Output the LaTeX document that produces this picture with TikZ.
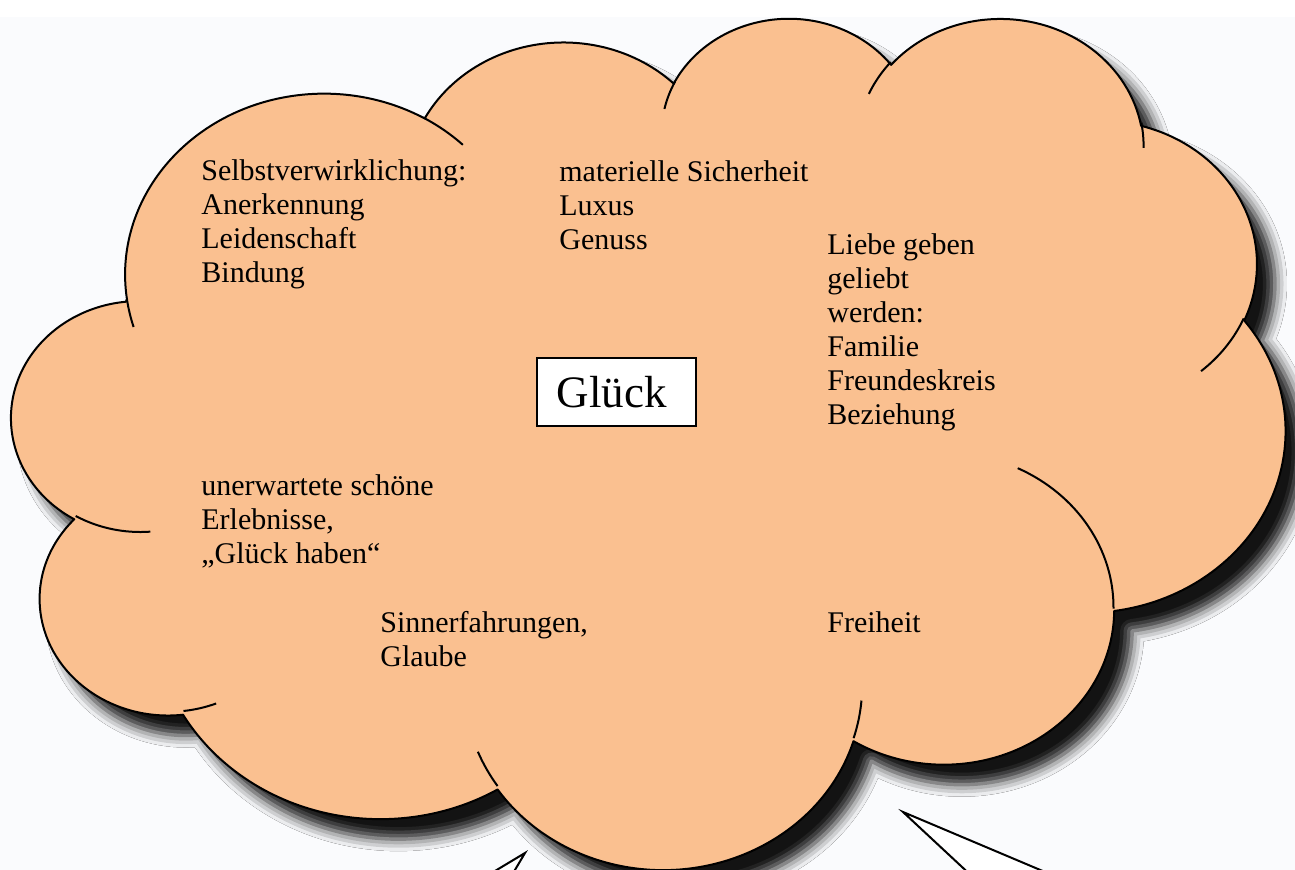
\documentclass[tikz,border=0pt]{standalone}
\usepackage{fontspec}
\setmainfont{Liberation Serif}
\usetikzlibrary{shadows.blur}
\definecolor{cloudfill}{RGB}{250,192,144}
\definecolor{pagetint}{RGB}{250,251,253}
\newcommand\cloudsx{1.47338}
\newcommand\cloudsy{0.98495}
\tikzset{
  ooarc/.style n args={4}{insert path={arc[x radius=#1*\cloudsx*1pt, y radius=#2*\cloudsy*1pt,
      start angle={(-atan2(#1*sin(#3),#2*cos(#3)))},
      delta angle={(-mod(atan2(#1*sin(#3+#4),#2*cos(#3+#4))-atan2(#1*sin(#3),#2*cos(#3))+720,360))}]}},
  cloudline/.style={line width=1pt, line join=round},
  lbl/.style={anchor=north west, inner sep=0pt, align=left, font=\fontsize{15}{17}\selectfont},
}
\begin{document}
\begin{tikzpicture}[x=0.5pt, y=-0.5pt]
\useasboundingbox (0,0) rectangle (1295,870);
\fill[pagetint] (0,17) rectangle (1295,870);
% cloud
\begin{scope}[shift={(12,16)}, x=\cloudsx pt, y=-\cloudsy pt]
\filldraw[cloudline, fill=cloudfill,
  blur shadow={shadow xshift=9pt, shadow yshift=-10pt, shadow blur radius=6pt, shadow opacity=92}]
  (39.00,143.70) [ooarc={67.53}{91.90}{-190.4875}{123.7805}]
  [ooarc={53.33}{72.67}{-144.1024}{89.9452}]
  [ooarc={43.65}{59.45}{-145.8079}{99.7230}]
  [ooarc={48.57}{65.95}{-130.9861}{117.2417}]
  [ooarc={53.33}{72.73}{-78.7089}{109.0269}]
  [ooarc={67.75}{92.20}{-46.2673}{130.2690}]
  [ooarc={57.85}{78.67}{0.6250}{114.0333}]
  [ooarc={67.52}{92.15}{22.4516}{115.1726}]
  [ooarc={77.20}{105.43}{66.2426}{75.7110}]
  [ooarc={43.60}{59.18}{-274.9421}{146.7356}]
  [ooarc={43.45}{59.45}{-246.8285}{152.5189}] -- cycle;
% inner arcs
\draw[cloudline]
  (46.93,261.77) [ooarc={43.45}{59.45}{86.7420}{26.4295}]
  (69.28,348.99) [ooarc={43.60}{59.18}{73.6105}{11.4475}]
  (164.78,390.90) [ooarc={67.52}{92.15}{137.6242}{14.0811}]
  (288.27,347.51) [ooarc={67.52}{92.15}{6.4533}{15.9984}]
  (341.29,229.54) [ooarc={57.85}{78.67}{-70.2924}{70.9174}]
  (417.98,153.54) [ooarc={53.33}{72.73}{30.3180}{27.7515}]
  (383.24,54.26) [ooarc={48.57}{65.95}{-13.7443}{14.8589}]
  (290.78,39.52) [ooarc={48.57}{65.95}{-149.1815}{18.1954}]
  (221.41,47.20) [ooarc={43.65}{59.45}{-163.4943}{17.6864}]
  (140.00,51.92) [ooarc={67.53}{91.90}{-66.7070}{12.3194}]
  (41.27,157.89) [ooarc={67.53}{91.90}{157.6544}{11.8582}];
\end{scope}
% wedges below
\coordinate (ltip) at (525,853);
\coordinate (lfoot1) at (480,880);
\coordinate (lfoot2) at (509,880);
\coordinate (rtip) at (903,812);
\coordinate (rfoot1) at (976,880);
\coordinate (rfoot2) at (1064,880);
\filldraw[fill=white, line width=1pt] (ltip) -- (lfoot1) -- (lfoot2) -- cycle;
\filldraw[fill=white, line width=1pt] (rtip) -- (rfoot1) -- (rfoot2) -- cycle;
% texts
\node[lbl] (selbst) at (201,159) {Selbstverwirklichung:\\Anerkennung\\Leidenschaft\\Bindung};
\node[lbl] (materiell) at (559,160) {materielle Sicherheit\\Luxus\\Genuss};
\node[lbl] (liebe) at (827,233) {Liebe geben\\geliebt\\werden:\\Familie\\Freundeskreis\\Beziehung};
\node[lbl] (unerwartet) at (201,474) {unerwartete schöne\\Erlebnisse,\\„Glück haben“};
\node[lbl] (sinn) at (380,611) {Sinnerfahrungen,\\Glaube};
\node[lbl] (freiheit) at (827,611) {Freiheit};
\node[draw, line width=1pt, fill=white, minimum width=79.5pt, minimum height=34pt,
  font=\fontsize{22.5}{26}\selectfont] (glueck) at (616.5,392) {\hspace*{-5pt}Glück};
\end{tikzpicture}
\end{document}
